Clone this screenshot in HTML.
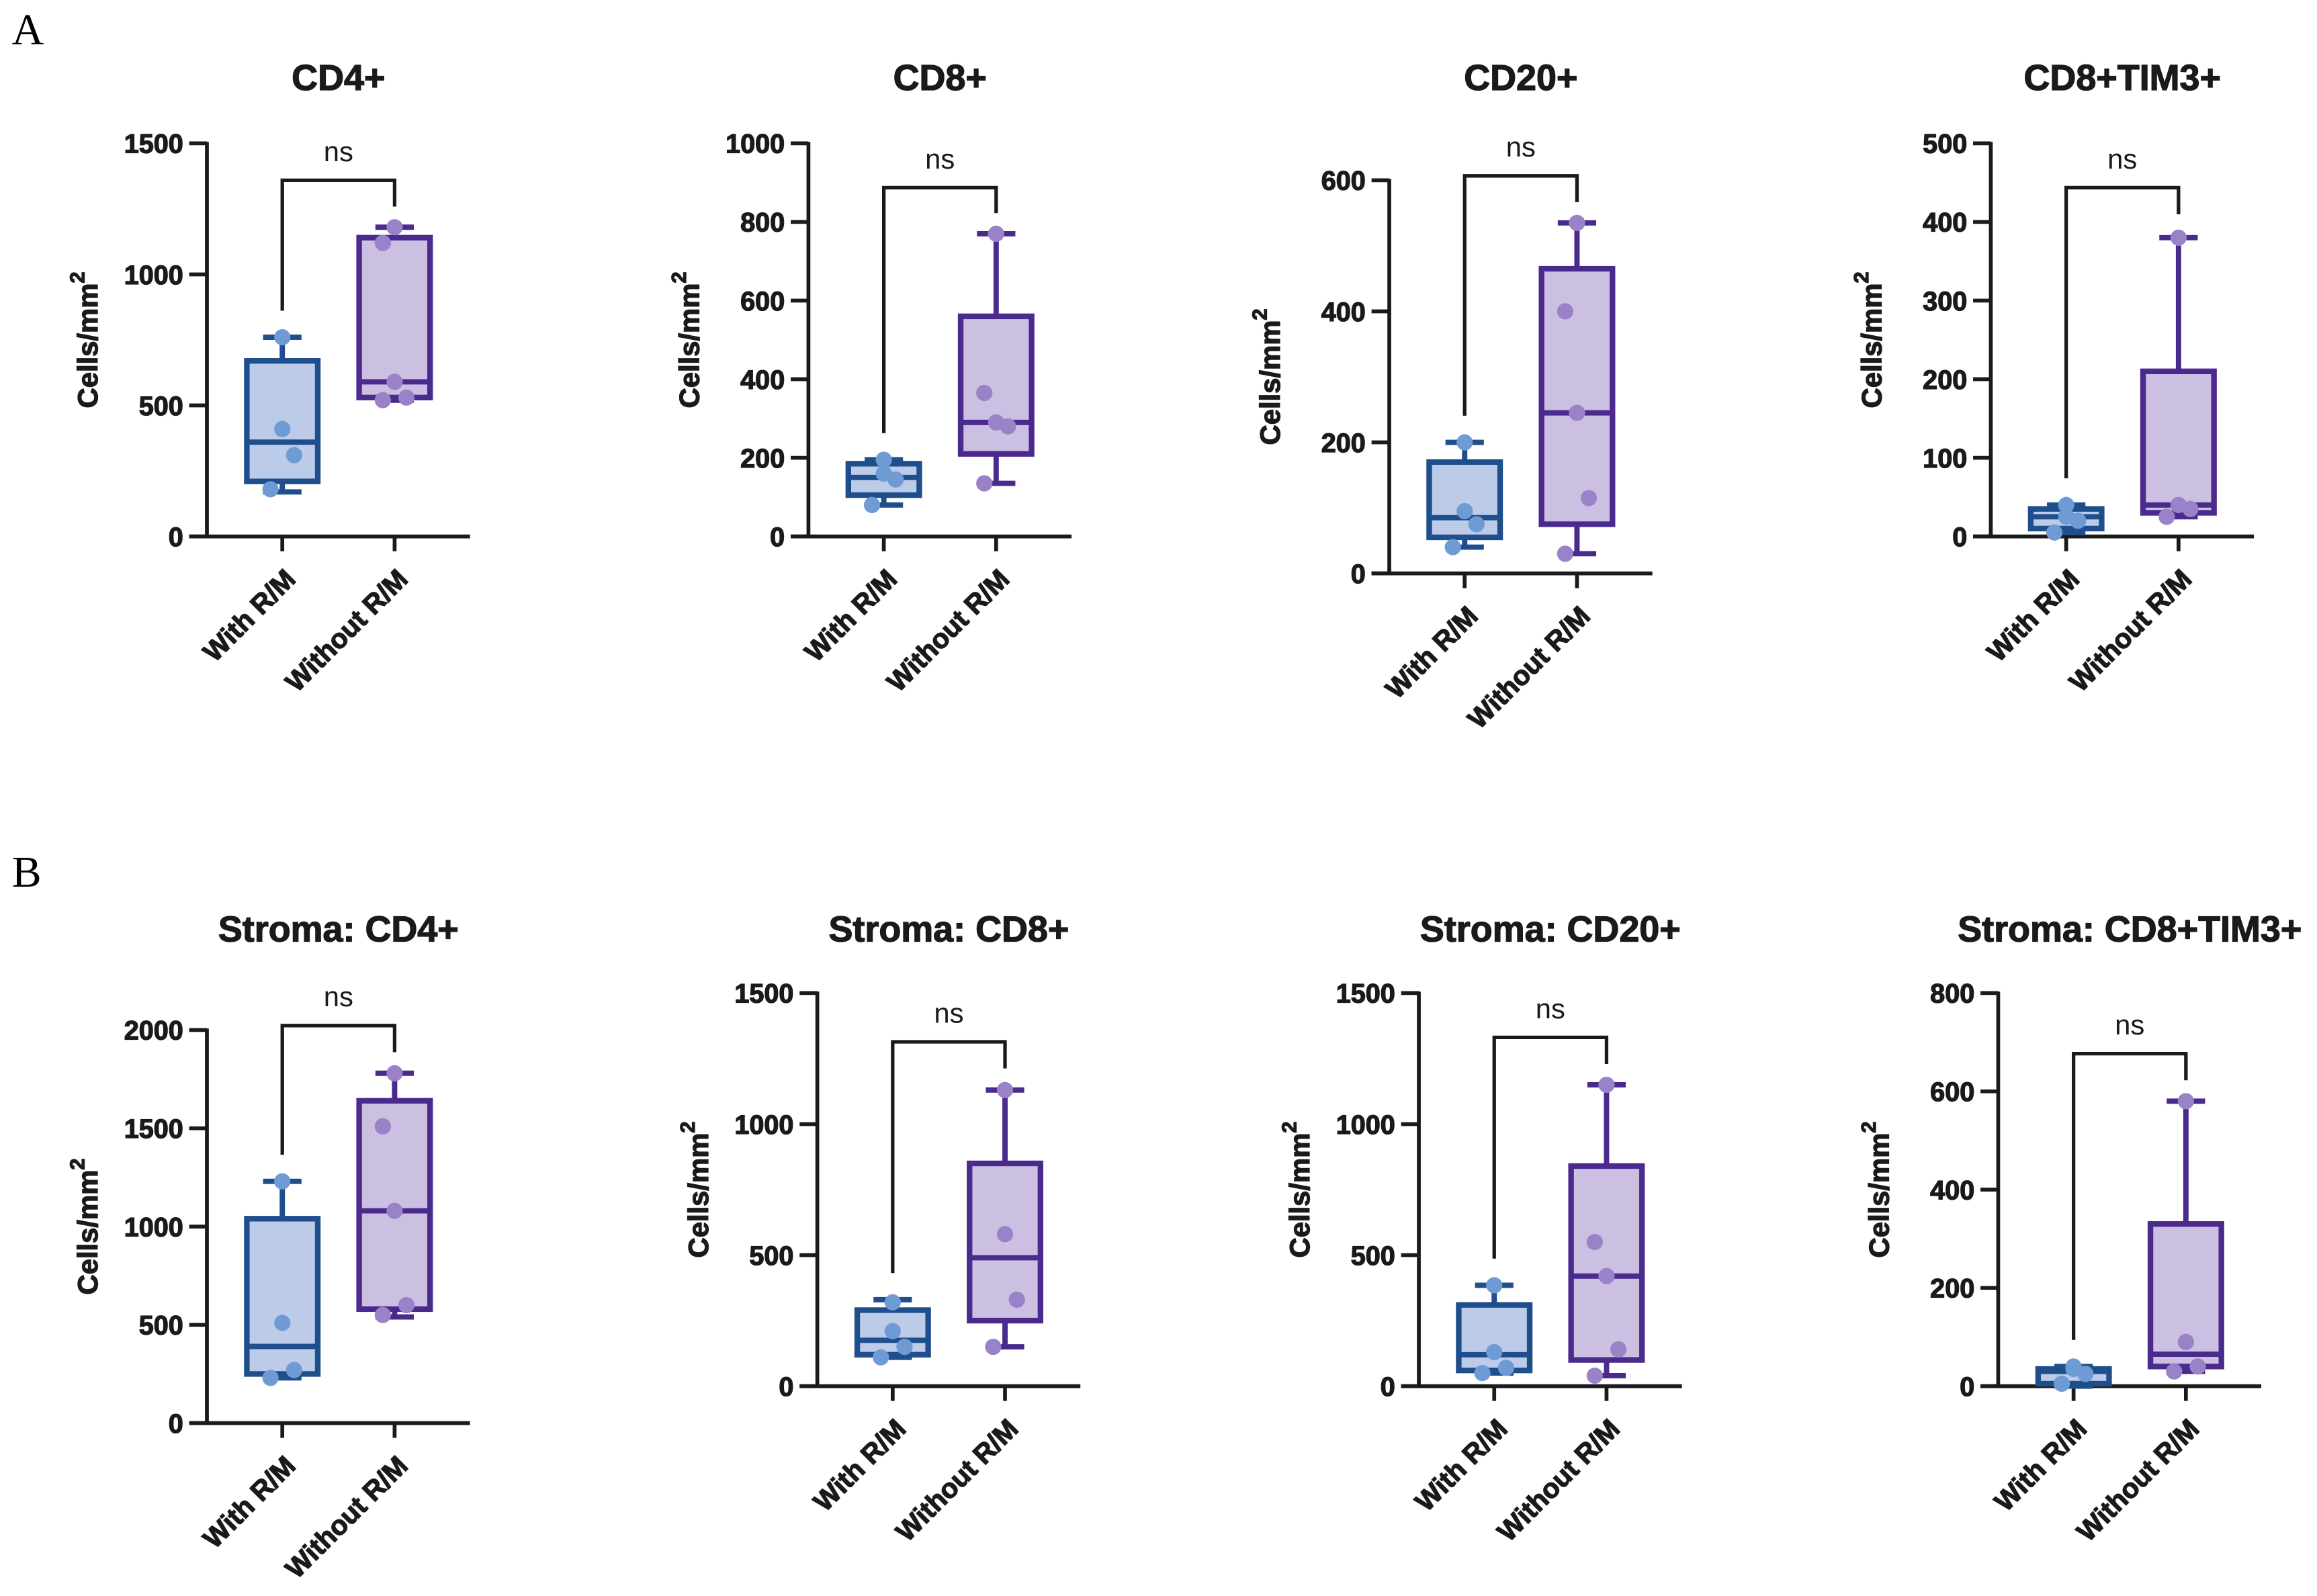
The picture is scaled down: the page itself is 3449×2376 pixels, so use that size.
<!DOCTYPE html>
<html><head><meta charset="utf-8"><style>
html,body{margin:0;padding:0;background:#fff;}
svg{display:block;}
text{font-family:"Liberation Sans",Arial,sans-serif;}
</style></head><body>
<svg id="fig" width="3449" height="2376" viewBox="0 0 1567.7 1080" preserveAspectRatio="none" xmlns="http://www.w3.org/2000/svg">
<text x="8" y="30" font-size="30" style="font-family:'Liberation Serif',serif">A</text>
<text x="8" y="600" font-size="30" style="font-family:'Liberation Serif',serif">B</text>
</svg>
<script>
// ---- data ----
const categories = ["With R/M", "Without R/M"];
const titles = ["CD4+","CD8+","CD20+","CD8+TIM3+","Stroma: CD4+","Stroma: CD8+","Stroma: CD20+","Stroma: CD8+TIM3+"];
const yMax = [1500,1000,600,500,2000,1500,1500,800];
const tickStep = [500,200,200,100,500,500,500,200];
// [whiskerLow, q1, median, q3, whiskerHigh]
const withBox = [[170,210,360,670,760],[80,105,150,185,195],[40,55,85,170,200],[5,10,25,35,40],[230,250,390,1040,1230],[110,120,175,290,330],[50,60,120,310,385],[0,5,30,35,40]];
const withoutBox = [[520,530,590,1140,1180],[135,210,290,560,770],[30,75,245,465,535],[25,30,40,210,380],[540,580,1080,1640,1780],[150,250,490,850,1130],[40,100,420,840,1150],[30,40,65,330,580]];
const withPts = [[180,310,410,760],[80,145,160,195],[40,75,95,200],[5,20,25,40],[230,270,510,1230],[110,150,210,320],[50,70,130,385],[5,25,35,40]];
const withoutPts = [[520,530,590,1120,1180],[135,280,290,365,770],[30,115,245,400,535],[25,35,40,380],[550,600,1080,1510,1780],[150,330,580,1130],[40,140,420,550,1150],[30,40,90,580]];
// ---- layout ----
const axX = [140,547,940,1347,140,553,960,1352];
const yTopPx = [97,97,122,97,697,672,672,672];
const y0Px = [363,363,388,363,963,938,938,938];
const bracketPx = [122,127,119,127,694,705,702,713];
const catOff = [51,127];
const titleY = [61,61,61,61,637,637,637,637];
const jit = [-8,8,0,-8,8];
const NS = "http://www.w3.org/2000/svg";
const svg = document.getElementById('fig');
function mk(tag, attrs, parent){const e=document.createElementNS(NS,tag);for(const k in attrs)e.setAttribute(k,attrs[k]);(parent||svg).appendChild(e);return e;}
const colW = {stroke:"#1f4e8c", fill:"#bccbe8", pt:"#6f9bd4"};
const colWo = {stroke:"#4a2a8c", fill:"#cbbfe2", pt:"#9a82c8"};
const heavy = {'font-weight':'bold',fill:'#1a1a1a',stroke:'#1a1a1a','stroke-width':0.6};
function T(attrs,g){return mk('text',Object.assign({},heavy,attrs),g);}
for(let p=0;p<8;p++){
  const g = mk('g',{});
  
  
  const ax=axX[p], yt=yTopPx[p], y0=y0Px[p];
  const ys = v => y0 - (v/yMax[p])*(y0-yt);
  const xs = i => ax + catOff[i];
  const t = T({x:ax+89,y:titleY[p],'text-anchor':'middle','font-size':24.5},g);
  t.textContent=titles[p];
  
  
  const yl = T({transform:`translate(${ax-74},${(yt+y0)/2}) rotate(-90)`,'text-anchor':'middle','font-size':19},g);
  yl.innerHTML='Cells/mm<tspan dy="-9" font-size="14">2</tspan>';
  
  
  mk('line',{x1:ax,y1:yt-1,x2:ax,y2:y0+1,stroke:'#1a1a1a','stroke-width':2.6},g);
  mk('line',{x1:ax-12,y1:y0,x2:ax+178,y2:y0,stroke:'#1a1a1a','stroke-width':2.6},g);
  for(let v=0;v<=yMax[p];v+=tickStep[p]){
    mk('line',{x1:ax-12,y1:ys(v),x2:ax,y2:ys(v),stroke:'#1a1a1a','stroke-width':2.6},g);
    const tl=T({x:ax-16,y:ys(v)+6.5,'text-anchor':'end','font-size':18},g);
    tl.textContent=v;
    
    
  }
  const boxes=[withBox[p],withoutBox[p]], pts=[withPts[p],withoutPts[p]], cols=[colW,colWo];
  for(let i=0;i<2;i++){
    const cx=xs(i), b=boxes[i], c=cols[i];
    mk('line',{x1:cx,y1:y0,x2:cx,y2:y0+10,stroke:'#1a1a1a','stroke-width':2.6},g);
    const xl=T({transform:`translate(${cx+10},${y0+30}) rotate(-45)`,'text-anchor':'end','font-size':18.5},g);
    xl.textContent=categories[i];
    
    
    const bg=mk('g',{},g);
    
    
    mk('line',{x1:cx,y1:ys(b[0]),x2:cx,y2:ys(b[4]),stroke:c.stroke,'stroke-width':3.6},bg);
    mk('line',{x1:cx-13,y1:ys(b[0]),x2:cx+13,y2:ys(b[0]),stroke:c.stroke,'stroke-width':3.6},bg);
    mk('line',{x1:cx-13,y1:ys(b[4]),x2:cx+13,y2:ys(b[4]),stroke:c.stroke,'stroke-width':3.6},bg);
    mk('rect',{x:cx-24,y:ys(b[3]),width:48,height:Math.max(ys(b[1])-ys(b[3]),1),fill:c.fill,stroke:c.stroke,'stroke-width':3.8},bg);
    mk('line',{x1:cx-24,y1:ys(b[2]),x2:cx+24,y2:ys(b[2]),stroke:c.stroke,'stroke-width':3.6},bg);
    pts[i].forEach((v,k)=>{
      const d=mk('circle',{cx:cx+jit[k%jit.length]*((k===pts[i].length-1)?0:1),cy:ys(v),r:5.5,fill:c.pt},bg);
      
      
    });
  }
  const bracketY = bracketPx[p];
  const lLeg = Math.max(ys(withBox[p][4])-18, bracketY+16);
  const rLeg = Math.min(bracketY+18, Math.max(ys(withoutBox[p][4])-14, bracketY+10));
  const br=mk('path',{d:`M${xs(0)},${lLeg} V${bracketY} H${xs(1)} V${rLeg}`,fill:'none',stroke:'#1a1a1a','stroke-width':2.4},g);
  
  
  const ns=mk('text',{x:(xs(0)+xs(1))/2,y:bracketY-13,'text-anchor':'middle','font-size':19,fill:'#1a1a1a'},g);
  ns.textContent='ns';
  
  
}
</script>
</body></html>
